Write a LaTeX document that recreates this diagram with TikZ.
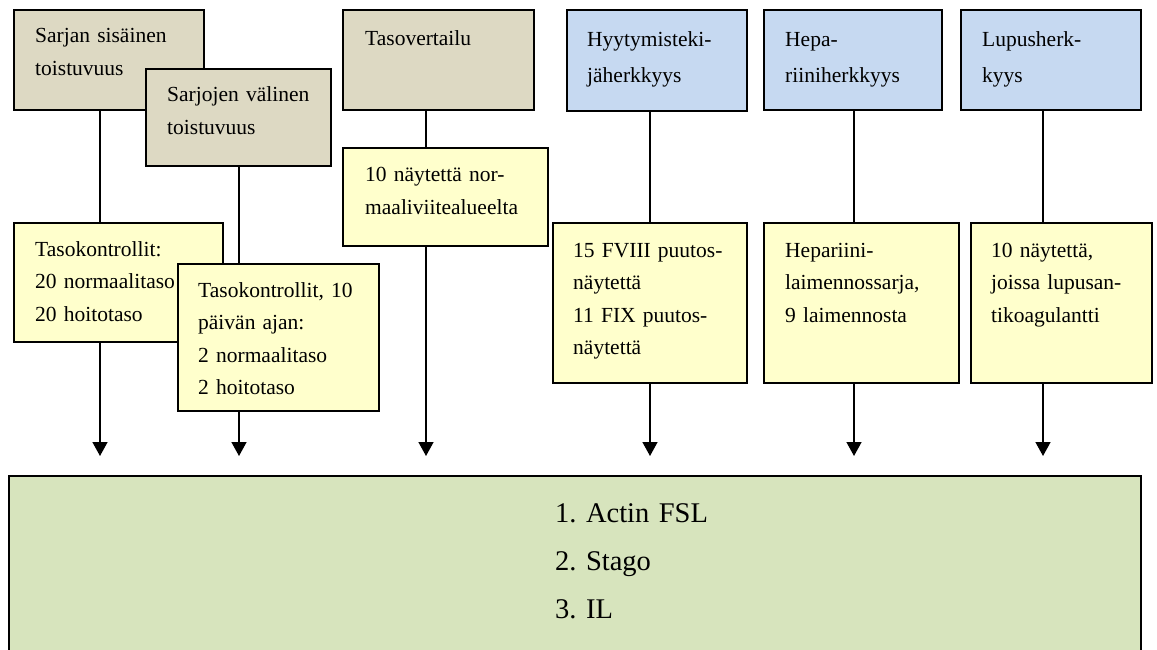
\documentclass[tikz,border=0pt]{standalone}
\usepackage{fontspec}
\setmainfont{Liberation Serif}
\usetikzlibrary{arrows.meta}
\definecolor{tanfill}{HTML}{DDD9C3}
\definecolor{bluefill}{HTML}{C6D9F1}
\definecolor{yellowfill}{HTML}{FFFFCC}
\definecolor{greenfill}{HTML}{D7E4BD}
\begin{document}
\frenchspacing
\begin{tikzpicture}[x=1pt,y=-1pt,
  boxbase/.style={draw=black, line width=1.6pt, inner sep=0pt, rectangle},
  tanbox/.style={boxbase, fill=tanfill},
  bluebox/.style={boxbase, fill=bluefill},
  yelbox/.style={boxbase, fill=yellowfill},
  greenbox/.style={boxbase, fill=greenfill},
  conn/.style={draw=black, line width=1.5pt},
  arr/.style={conn, -{Triangle[width=15pt,length=14pt]}},
  txt/.style={anchor=base west, inner sep=0pt, align=left, text width=185pt, font=\fontsize{21.5}{33}\selectfont},
  txtwide/.style={txt, font=\fontsize{21.5}{36}\selectfont},
  txtyel/.style={txt, font=\fontsize{21.5}{32.6}\selectfont},
  bigtxt/.style={anchor=base west, inner sep=0pt, align=left, text width=300pt, font=\fontsize{28.5}{48}\selectfont}]
\useasboundingbox (0,0) rectangle (1157,650);

% arrow tip coordinates
\coordinate (ta) at (100,456);
\coordinate (tb) at (239,456);
\coordinate (tc) at (426,456);
\coordinate (td) at (650,456);
\coordinate (te) at (854,456);
\coordinate (tf) at (1043,456);

% top boxes
\node[tanbox, minimum width=190pt, minimum height=100pt] (a) at (109,60) {};
\node[tanbox, minimum width=185pt, minimum height=97pt] (b) at (238.5,117.5) {};
\node[tanbox, minimum width=191pt, minimum height=100pt] (c) at (438.5,60) {};
\node[bluebox, minimum width=180pt, minimum height=101pt] (d) at (657,60.5) {};
\node[bluebox, minimum width=178pt, minimum height=100pt] (e) at (853,60) {};
\node[bluebox, minimum width=180pt, minimum height=100pt] (f) at (1051,60) {};

% yellow boxes
\node[yelbox, minimum width=209pt, minimum height=119pt] (ya) at (118.5,282.5) {};
\node[yelbox, minimum width=201pt, minimum height=147pt] (yb) at (278.5,337.5) {};
\node[yelbox, minimum width=205pt, minimum height=98pt] (yc) at (445.5,197) {};
\node[yelbox, minimum width=194pt, minimum height=160pt] (yd) at (650,303) {};
\node[yelbox, minimum width=195pt, minimum height=160pt] (ye) at (861.5,303) {};
\node[yelbox, minimum width=181pt, minimum height=160pt] (yf) at (1061.5,303) {};

% connectors top -> yellow
\draw[conn] (a.south -| ta) -- (ya.north -| ta);
\draw[conn] (b.south -| tb) -- (yb.north -| tb);
\draw[conn] (c.south -| tc) -- (yc.north -| tc);
\draw[conn] (d.south -| td) -- (yd.north -| td);
\draw[conn] (e.south -| te) -- (ye.north -| te);
\draw[conn] (f.south -| tf) -- (yf.north -| tf);

% arrows down
\draw[arr] (ya.south -| ta) -- (ta);
\draw[arr] (yb.south -| tb) -- (tb);
\draw[arr] (yc.south -| tc) -- (tc);
\draw[arr] (yd.south -| td) -- (td);
\draw[arr] (ye.south -| te) -- (te);
\draw[arr] (yf.south -| tf) -- (tf);

% bottom box
\node[greenbox, minimum width=1132pt, minimum height=240pt] (g) at (575,596) {};

% texts
\node[txt] (la) at (35,43) {Sarjan sisäinen\\toistuvuus};
\node[txt] (lb) at (167,102) {Sarjojen välinen\\toistuvuus};
\node[txt] (lc) at (365,46) {Tasovertailu};
\node[txtwide] (ld) at (587,47) {Hyytymisteki-\\jäherkkyys};
\node[txtwide] (le) at (785,47) {Hepa-\\riiniherkkyys};
\node[txtwide] (lf) at (982,47) {Lupusherk-\\kyys};

\node[txtyel] (lya) at (35,256) {Tasokontrollit:\\20 normaalitaso\\20 hoitotaso};
\node[txtyel] (lyb) at (198,297) {Tasokontrollit, 10\\päivän ajan:\\2 normaalitaso\\2 hoitotaso};
\node[txtyel] (lyc) at (365,182) {10 näytettä nor-\\maaliviitealueelta};
\node[txtyel] (lyd) at (573,257) {15 FVIII puutos-\\näytettä\\11 FIX puutos-\\näytettä};
\node[txtyel] (lye) at (785,257) {Hepariini-\\laimennossarja,\\9 laimennosta};
\node[txtyel] (lyf) at (991,257) {10 näytettä,\\joissa lupusan-\\tikoagulantti};

\node[bigtxt] (lg) at (555,522) {1. Actin FSL\\2. Stago\\3. IL};
\end{tikzpicture}
\end{document}
